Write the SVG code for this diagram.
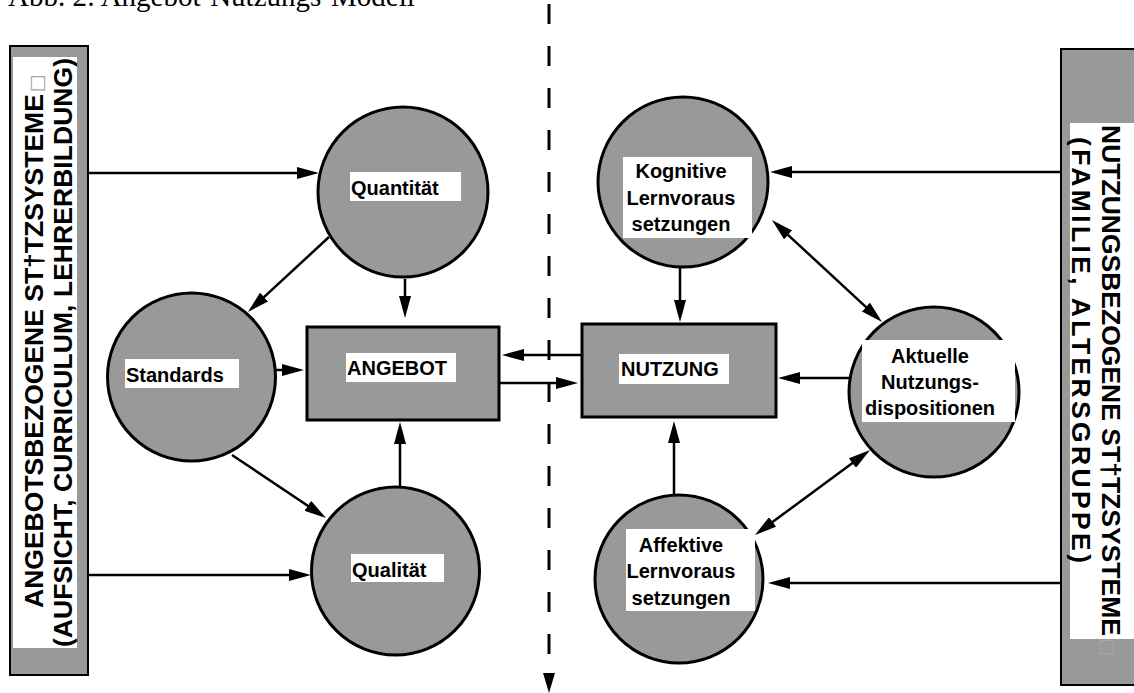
<svg xmlns="http://www.w3.org/2000/svg" width="1134" height="693" viewBox="0 0 1134 693">
<defs>
<style>
.g{fill:#999999;stroke:#000;stroke-width:3}
.panel{fill:#999999;stroke:#000;stroke-width:2}
.w{fill:#fff;stroke:none}
.lbl{font-family:"Liberation Sans",Arial,sans-serif;font-weight:bold;font-size:20px;fill:#000}
.side{font-family:"Liberation Sans",Arial,sans-serif;font-weight:bold;font-size:26.5px;fill:#000}
.sq{font-family:"DejaVu Sans",sans-serif;font-weight:normal;font-size:19px;fill:#a8a8a8}
.title{font-family:"Liberation Serif","Times New Roman",serif;font-size:29px;fill:#000}
.ln{stroke:#000;stroke-width:2.5;fill:none}
.arr{marker-end:url(#ah)}
.dbl{marker-start:url(#ah);marker-end:url(#ah)}
.dash{stroke:#000;stroke-width:3;fill:none;stroke-dasharray:20 22}
</style>
<marker id="ah" markerUnits="userSpaceOnUse" markerWidth="22" markerHeight="12" refX="12" refY="6" orient="auto-start-reverse" viewBox="0 0 22 12">
<path d="M0,0 L22,6 L0,12 z" fill="#000"/>
</marker>
</defs>

<text class="title" x="8" y="6">Abb. 2: Angebot-Nutzungs-Modell</text>

<g id="panel-left">
<rect class="panel" x="10" y="46" width="78" height="629"/>
<rect class="w" x="13" y="57" width="64" height="591"/>
<text class="side" transform="translate(43,608) rotate(-90)">ANGEBOTSBEZOGENE ST†TZSYSTEME<tspan class="sq" dx="2">□</tspan></text>
<text class="side" transform="translate(72,647) rotate(-90)" textLength="589" lengthAdjust="spacing">(AUFSICHT, CURRICULUM, LEHRERBILDUNG)</text>
</g>

<g id="panel-right">
<rect class="panel" x="1061" y="49" width="80" height="636"/>
<rect class="w" x="1070" y="123" width="70" height="516"/>
<text class="side" transform="translate(1102,125) rotate(90)">NUTZUNGSBEZOGENE ST†TZSYSTEME<tspan class="sq" dx="2">□</tspan></text>
<text class="side" transform="translate(1072,137) rotate(90)" textLength="426" lengthAdjust="spacing">(FAMILIE, ALTERSGRUPPE)</text>
</g>

<g id="quantitaet">
<circle class="g" cx="403" cy="192" r="85"/>
<rect class="w" x="350" y="172" width="111" height="29"/>
<text class="lbl" x="351" y="195">Quantität</text>
</g>

<g id="standards">
<circle class="g" cx="191.5" cy="377" r="84"/>
<rect class="w" x="125" y="359" width="114" height="29"/>
<text class="lbl" x="126" y="382">Standards</text>
</g>

<g id="qualitaet">
<circle class="g" cx="395.5" cy="571" r="84"/>
<rect class="w" x="351" y="554" width="93" height="28"/>
<text class="lbl" x="352" y="577">Qualität</text>
</g>

<g id="angebot">
<rect class="g" x="307" y="327" width="192" height="93"/>
<rect class="w" x="346" y="353" width="110" height="29"/>
<text class="lbl" x="347" y="375">ANGEBOT</text>
</g>

<g id="nutzung">
<rect class="g" x="582" y="324" width="194" height="93"/>
<rect class="w" x="619" y="354" width="110" height="30"/>
<text class="lbl" x="621" y="376">NUTZUNG</text>
</g>

<g id="kognitive">
<circle class="g" cx="683" cy="182" r="85"/>
<rect class="w" x="623" y="157" width="129" height="81"/>
<text class="lbl" text-anchor="middle"><tspan x="681" y="178">Kognitive</tspan><tspan x="681" y="205">Lernvoraus</tspan><tspan x="681" y="231">setzungen</tspan></text>
</g>

<g id="aktuelle">
<circle class="g" cx="934" cy="392" r="85"/>
<rect class="w" x="862" y="340" width="153" height="82"/>
<text class="lbl" text-anchor="middle"><tspan x="930" y="363">Aktuelle</tspan><tspan x="930" y="389">Nutzungs-</tspan><tspan x="930" y="415">dispositionen</tspan></text>
</g>

<g id="affektive">
<circle class="g" cx="679" cy="579" r="84"/>
<rect class="w" x="626" y="529" width="129" height="82"/>
<text class="lbl" text-anchor="middle"><tspan x="681" y="552">Affektive</tspan><tspan x="681" y="578">Lernvoraus</tspan><tspan x="681" y="605">setzungen</tspan></text>
</g>

<g id="connectors">
<line class="dash" x1="549" y1="4" x2="549" y2="680"/>
<path d="M549,693 L543,673 L555,673 z" fill="#000"/>
<line class="ln arr" x1="89" y1="173" x2="309" y2="173"/>
<line class="ln arr" x1="89" y1="575" x2="301" y2="575"/>
<line class="ln arr" x1="329" y1="237" x2="255.3" y2="305.2"/>
<line class="ln arr" x1="405" y1="279" x2="405" y2="308"/>
<line class="ln arr" x1="276" y1="370" x2="294" y2="370"/>
<line class="ln arr" x1="232" y1="455" x2="317.7" y2="512.4"/>
<line class="ln arr" x1="400" y1="486" x2="400" y2="432"/>
<line class="ln arr" x1="582" y1="355" x2="512" y2="355"/>
<line class="ln arr" x1="499" y1="383" x2="568" y2="383"/>
<line class="ln arr" x1="680" y1="267" x2="680" y2="312"/>
<line class="ln arr" x1="1061" y1="172" x2="780" y2="172"/>
<line class="ln arr" x1="1061" y1="583" x2="778" y2="583"/>
<line class="ln dbl" x1="779.3" y1="226.8" x2="874.7" y2="315.2"/>
<line class="ln arr" x1="850" y1="378" x2="788" y2="378"/>
<line class="ln arr" x1="674" y1="495" x2="674" y2="431"/>
<line class="ln dbl" x1="763" y1="529.1" x2="862" y2="455.9"/>
</g>
</svg>
